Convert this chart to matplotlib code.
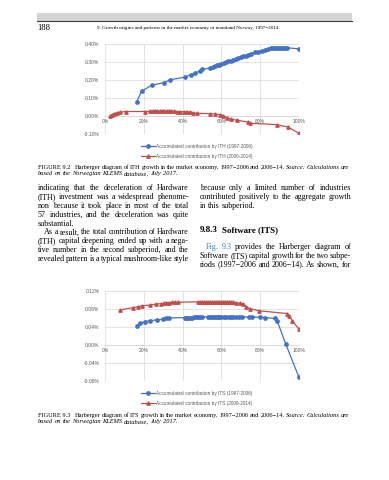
import matplotlib
matplotlib.use("Agg")
import matplotlib.pyplot as plt
from matplotlib.patches import Rectangle
from matplotlib.lines import Line2D

# --- pagina ---
W, H = 389, 480
SERIF = "Liberation Serif"
SANS = "Liberation Sans"
C_BLUE = "#4472C4"
C_RED = "#C0504D"
C_GRID = "#D9D9D9"
C_TICK = "#595959"
C_LINK = "#3A7DC9"

# --- dati: Figure 9.2 (ITH), quota cumulata / contributo cumulato in % ---
ith_a_x = [0.163, 0.189, 0.241, 0.306, 0.335, 0.412, 0.442, 0.464, 0.490, 0.502,
           0.541, 0.555, 0.567, 0.578, 0.590, 0.600, 0.611, 0.622, 0.636, 0.648,
           0.661, 0.673, 0.687, 0.700, 0.713, 0.726, 0.739, 0.752, 0.773, 0.790,
           0.808, 0.825, 0.842, 0.856, 0.868, 0.878, 0.888, 0.898, 0.908, 0.918,
           0.928, 0.940, 1.000]
ith_a_y = [0.078, 0.138, 0.171, 0.186, 0.201, 0.216, 0.229, 0.238, 0.251, 0.259,
           0.266, 0.271, 0.276, 0.281, 0.286, 0.290, 0.294, 0.299, 0.304, 0.308,
           0.313, 0.317, 0.322, 0.327, 0.332, 0.336, 0.341, 0.346, 0.354, 0.358,
           0.363, 0.368, 0.373, 0.376, 0.378, 0.379, 0.379, 0.379, 0.379, 0.379,
           0.379, 0.379, 0.373]
ith_b_x = [0.026, 0.034, 0.048, 0.060, 0.077, 0.108, 0.206, 0.230, 0.245, 0.258,
           0.270, 0.282, 0.294, 0.306, 0.318, 0.330, 0.342, 0.355, 0.370, 0.388,
           0.405, 0.421, 0.438, 0.455, 0.472, 0.541, 0.567, 0.593, 0.610, 0.627,
           0.649, 0.682, 0.739, 0.745, 0.885, 0.945, 1.000]
ith_b_y = [0.000, 0.008, 0.013, 0.019, 0.021, 0.025, 0.025, 0.026, 0.027, 0.027,
           0.028, 0.028, 0.028, 0.028, 0.028, 0.027, 0.027, 0.026, 0.025, 0.025,
           0.024, 0.023, 0.021, 0.019, 0.015, 0.013, 0.011, 0.008, 0.002, -0.009,
           -0.017, -0.024, -0.034, -0.040, -0.048, -0.062, -0.096]

# --- dati: Figure 9.3 (ITS) ---
its_a_x = [0.165, 0.182, 0.205, 0.234, 0.268, 0.299, 0.316, 0.330, 0.410, 0.420,
           0.430, 0.440, 0.450, 0.460, 0.470, 0.480, 0.490, 0.500, 0.530, 0.540,
           0.550, 0.560, 0.570, 0.580, 0.590, 0.600, 0.612, 0.625, 0.638, 0.650,
           0.662, 0.675, 0.690, 0.705, 0.740, 0.760, 0.800, 0.823, 0.875, 0.888,
           0.931, 0.998]
its_a_y = [0.042, 0.048, 0.052, 0.054, 0.056, 0.057, 0.059, 0.060, 0.061, 0.061,
           0.061, 0.061, 0.061, 0.062, 0.062, 0.062, 0.062, 0.062, 0.063, 0.063,
           0.063, 0.063, 0.063, 0.063, 0.063, 0.063, 0.063, 0.063, 0.063, 0.063,
           0.063, 0.063, 0.063, 0.063, 0.062, 0.062, 0.062, 0.061, 0.059, 0.053,
           0.003, -0.070]
its_b_x = [0.079, 0.145, 0.170, 0.190, 0.234, 0.265, 0.290, 0.305, 0.316, 0.330,
           0.345, 0.360, 0.376, 0.480, 0.490, 0.500, 0.510, 0.520, 0.530, 0.540,
           0.550, 0.560, 0.570, 0.580, 0.590, 0.600, 0.610, 0.620, 0.630, 0.640,
           0.650, 0.660, 0.677, 0.695, 0.710, 0.729, 0.746, 0.794, 0.938, 0.950,
           0.966, 1.000]
its_b_y = [0.078, 0.083, 0.085, 0.087, 0.089, 0.091, 0.092, 0.093, 0.094, 0.094,
           0.095, 0.095, 0.095, 0.096, 0.096, 0.096, 0.096, 0.096, 0.096, 0.096,
           0.096, 0.096, 0.096, 0.096, 0.096, 0.096, 0.096, 0.096, 0.096, 0.096,
           0.095, 0.095, 0.094, 0.093, 0.092, 0.085, 0.081, 0.076, 0.070, 0.064,
           0.054, 0.035]

x_ticks = [0, 0.2, 0.4, 0.6, 0.8, 1.0]
x_labels = ["0%", "20%", "40%", "60%", "80%", "100%"]
ith_yticks = [-0.10, 0.00, 0.10, 0.20, 0.30, 0.40]
its_yticks = [-0.08, -0.04, 0.00, 0.04, 0.08, 0.12]
ith_labels = ["Accumulated contribution by ITH (1997-2006)",
              "Accumulated contribution by ITH (2006-2014)"]
its_labels = ["Accumulated contribution by ITS (1997-2006)",
              "Accumulated contribution by ITS (2006-2014)"]

header_title = "9. Growth origins and patterns in the market economy of mainland Norway, 1997\u22122014"

left_col = [
    ("indicating that the deceleration of Hardware", True, 0),
    ("(ITH) investment was a widespread phenome-", True, 0),
    ("non because it took place in most of the total", True, 0),
    ("57 industries, and the deceleration was quite", True, 0),
    ("substantial.", False, 0),
    ("As a result, the total contribution of Hardware", True, 6),
    ("(ITH) capital deepening ended up with a nega-", True, 0),
    ("tive number in the second subperiod, and the", True, 0),
    ("revealed pattern is a typical mushroom-like style", True, 0),
]
right_col_a = [
    ("because only a limited number of industries", True, 0),
    ("contributed positively to the aggregate growth", True, 0),
    ("in this subperiod.", False, 0),
]
right_col_b = [
    ("Fig. 9.3 provides the Harberger diagram of", True, 6),
    ("Software (ITS) capital growth for the two subpe-", True, 0),
    ("riods (1997\u22122006 and 2006\u221214). As shown, for", True, 0),
]


def fx(px):
    return px / W


def fy(py):
    return 1 - py / H


fig = plt.figure(figsize=(W / 100, H / 100), dpi=100)
rend = fig.canvas.get_renderer()


def put_line(words, x0, x1, yb, size, justify=True, family=SERIF):
    """words: lista di (parola, kwargs); allinea a giustificato tra x0 e x1"""
    texts = [fig.text(0, 0, w, fontsize=size, family=family, va="baseline", **kw)
             for w, kw in words]
    widths = [t.get_window_extent(rend).width for t in texts]
    space = size * 100 / 72 * 0.25
    if justify and len(texts) > 1:
        gap = max((x1 - x0 - sum(widths)) / (len(texts) - 1), 1.0)
    else:
        gap = space
    x = x0
    for t, w in zip(texts, widths):
        t.set_position((fx(x), fy(yb)))
        x += w + gap


def body(lines, x0, x1, y0, step, size=5.75):
    for i, (txt, just, indent) in enumerate(lines):
        words = [(w, {}) for w in txt.split()]
        if txt.startswith("Fig. 9.3"):
            words[0] = ("Fig.", {"color": C_LINK})
            words[1] = ("9.3", {"color": C_LINK})
        put_line(words, x0 + indent, x1, y0 + i * step + 2, size, just)


def caption(num, what, y):
    w1 = [("FIGURE\u00a0" + num + "\u2002", {})]
    w1 += [(w, {}) for w in ("Harberger diagram of " + what + " growth in the market economy, "
                             "1997\u22122006 and 2006\u221214.").split()]
    w1 += [(w, {"style": "italic"}) for w in "Source: Calculations are".split()]
    put_line(w1, 38, 349, y + 1.6, 4.6)
    w2 = [(w, {"style": "italic"}) for w in "based on the Norwegian KLEMS database, July 2017.".split()]
    put_line(w2, 38, 349, y + 6.5 + 1.6, 4.6, justify=False)


def harberger(top, bottom, xa, ya, xb, yb, yticks, labels, leg_top):
    ax = fig.add_axes([fx(105), fy(bottom), fx(299) - fx(105), (bottom - top) / H])
    ax.plot(xa, ya, color=C_BLUE, marker="o", ms=2.4, lw=0.9, label=labels[0], zorder=3)
    ax.plot(xb, yb, color=C_RED, marker="^", ms=2.4, lw=0.9, label=labels[1], zorder=3)
    ax.set_xlim(0, 1)
    ax.set_ylim(yticks[0], yticks[-1])
    ax.set_xticks(x_ticks, x_labels)
    ax.set_yticks(yticks, [f"{t:.2f}%" for t in yticks])
    ax.grid(True, color=C_GRID, lw=0.5, zorder=0)
    for s in ax.spines.values():
        s.set_visible(False)
    ax.spines["bottom"].set_visible(True)
    ax.spines["bottom"].set_position(("data", 0))
    ax.spines["bottom"].set_color(C_GRID)
    ax.spines["bottom"].set_linewidth(0.6)
    ax.tick_params(length=0, labelsize=3.6, colors=C_TICK)
    ax.tick_params(axis="y", pad=4)
    ax.tick_params(axis="x", pad=2)
    for t in ax.get_xticklabels() + ax.get_yticklabels():
        t.set_family(SANS)
    leg = ax.legend(loc="upper center", bbox_to_anchor=(0.474, -(leg_top - bottom) / (bottom - top)),
                    frameon=False, prop={"family": SANS, "size": 3.4}, handlelength=2.8,
                    labelspacing=1.0, borderpad=0, borderaxespad=0, handletextpad=0.3)
    for t in leg.get_texts():
        t.set_color(C_TICK)
    return ax


# --- intestazione ---
fig.patches.append(Rectangle((fx(37), fy(21)), fx(352) - fx(37), 8 / H,
                             transform=fig.transFigure, color="#D4D4D4", lw=0))
fig.lines.append(Line2D([fx(37), fx(352)], [fy(21), fy(21)], transform=fig.transFigure,
                        color="#3C3C3C", lw=0.8))
fig.text(fx(37), fy(29.5), "188", fontsize=6.2, family=SERIF, va="baseline")
fig.text(fx(97), fy(29), header_title, fontsize=3.7, family=SERIF, va="baseline")

# --- Figure 9.2 ---
harberger(44, 134, ith_a_x, ith_a_y, ith_b_x, ith_b_y, ith_yticks, ith_labels, 144)
caption("9.2", "ITH", 167)

# --- testo ---
body(left_col, 38, 189, 188.5, 8.8)
body(right_col_a, 200, 351, 188.5, 8.8)
fig.text(fx(200), fy(232), "9.8.3", fontsize=6.4, family=SERIF, weight="bold", va="baseline")
fig.text(fx(221.5), fy(232), "Software (ITS)", fontsize=6.4, family=SERIF, weight="bold", va="baseline")
body(right_col_b, 200, 351, 247, 8.8)

# --- Figure 9.3 ---
harberger(291, 381, its_a_x, its_a_y, its_b_x, its_b_y, its_yticks, its_labels, 391)
caption("9.3", "ITS", 415)

fig.savefig("out.png", dpi=100)
